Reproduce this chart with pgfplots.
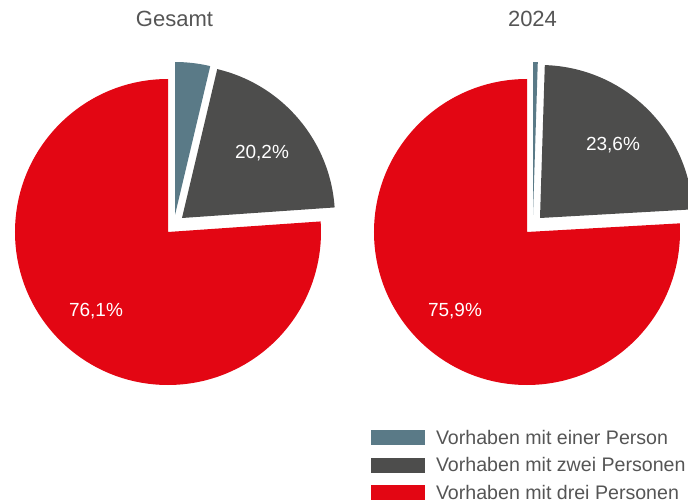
\documentclass[border=0pt]{standalone}
\usepackage{pgfplots}
\pgfplotsset{compat=1.18}
\usepackage{fontspec}
\setmainfont{Liberation Sans}
\definecolor{cblue}{RGB}{90,122,135}
\definecolor{cgray}{RGB}{77,77,76}
\definecolor{cred}{RGB}{227,6,19}
\definecolor{ctext}{RGB}{85,85,85}
% \slice{cx}{cy}{start percent}{percent}{dx}{dy}{colour}
\newcommand\slice[7]{%
  \fill[#7] (axis cs:{#1+#5},{#2+#6}) -- ++({90+3.6*#3}:153bp)
    arc[start angle={90+3.6*#3}, delta angle={3.6*#4}, radius=153bp] -- cycle;}
\begin{document}
\begin{tikzpicture}
\useasboundingbox (0,0) rectangle (688bp,501bp);
\begin{axis}[
  at={(0,0)}, anchor=south west,
  x=1bp, y=1bp, xmin=0, xmax=688, ymin=0, ymax=501,
  hide axis, clip=true,
  legend style={draw=none, fill=none, inner sep=0pt, outer sep=0pt,
    at={(axis cs:371,71)}, anchor=north west,
    column sep=11bp, row sep=12.7bp,
    font=\fontsize{19.6bp}{22bp}\selectfont, text=ctext,
    nodes={inner sep=0pt, text height=14bp, text depth=0bp, anchor=base west}},
  legend cell align=left,
  legend image code/.code={\fill[#1] (0bp,-0.8bp) rectangle (54bp,14.2bp);},
]
\addlegendimage{fill=cblue, draw=none}
\addlegendentry{Vorhaben mit einer Person}
\addlegendimage{fill=cgray, draw=none}
\addlegendentry{Vorhaben mit zwei Personen}
\addlegendimage{fill=cred, draw=none}
\addlegendentry{Vorhaben mit drei Personen}

% Gesamt: drei 76.1, zwei 20.2, einer 3.7
\slice{168}{269}{0}{76.1}{0}{0}{cred}
\slice{168}{269}{76.1}{20.2}{14}{14}{cgray}
\slice{168}{269}{96.3}{3.7}{7}{17}{cblue}
% 2024: drei 75.9, zwei 23.6, einer 0.5
\slice{527}{269}{0}{75.9}{0}{0}{cred}
\slice{527}{269}{75.9}{23.6}{13}{14}{cgray}
\slice{527}{269}{99.5}{0.5}{6}{17}{cblue}

\node[white, font=\fontsize{19bp}{22bp}\selectfont, inner sep=0pt, text depth=0pt] at (axis cs:262,349) {20,2\%};
\node[white, font=\fontsize{19bp}{22bp}\selectfont, inner sep=0pt, text depth=0pt] at (axis cs:96,191.5) {76,1\%};
\node[white, font=\fontsize{19bp}{22bp}\selectfont, inner sep=0pt, text depth=0pt] at (axis cs:613,356.8) {23,6\%};
\node[white, font=\fontsize{19bp}{22bp}\selectfont, inner sep=0pt, text depth=0pt] at (axis cs:455,191.5) {75,9\%};

\node[ctext, font=\fontsize{22bp}{26bp}\selectfont, inner sep=0pt, text depth=0pt] at (axis cs:174.5,482.5) {Gesamt};
\node[ctext, font=\fontsize{22bp}{26bp}\selectfont, inner sep=0pt, text depth=0pt] at (axis cs:532.5,482.5) {2024};
\end{axis}
\end{tikzpicture}
\end{document}
